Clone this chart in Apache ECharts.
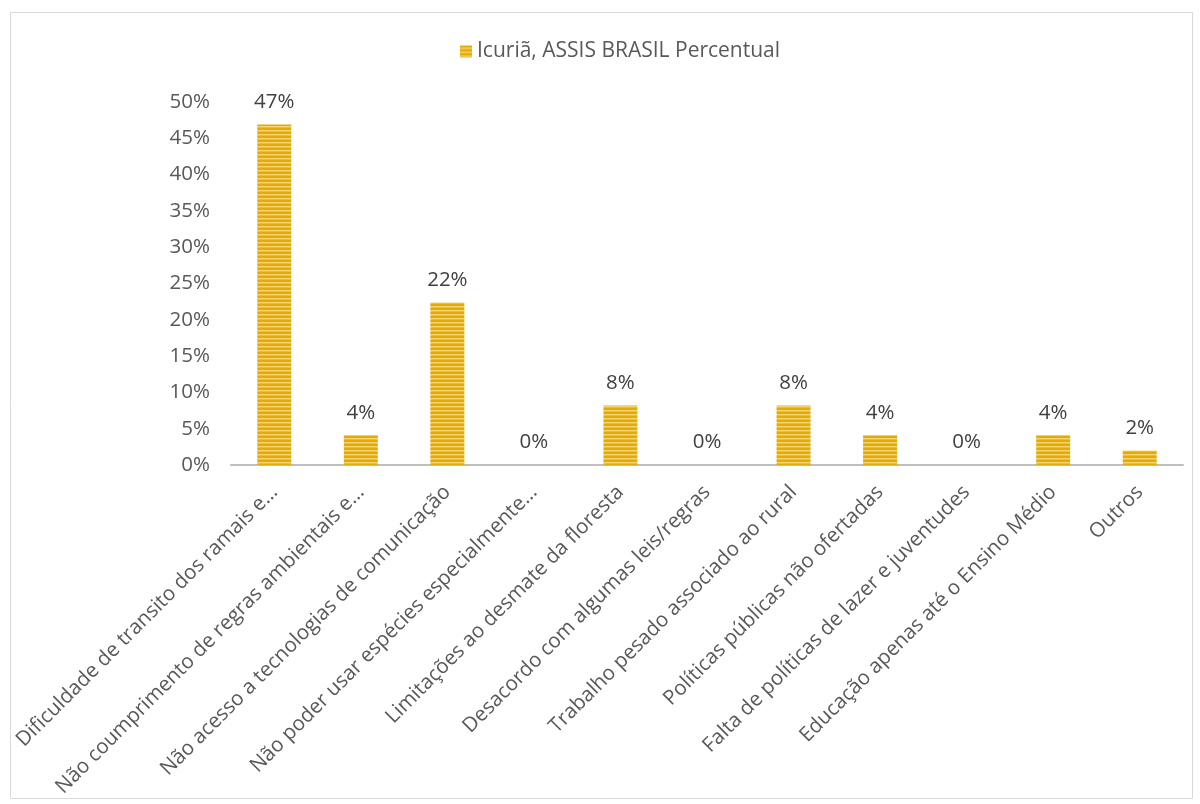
<!DOCTYPE html>
<html>
<head>
<meta charset="utf-8">
<script src="https://cdn.jsdelivr.net/npm/echarts@6/dist/echarts.min.js"></script>
<style>html,body{margin:0;padding:0;background:#fff}#c{width:1200px;height:804px}</style>
</head>
<body>
<div id="c"></div>
<script>
const categories = [
  "Dificuldade de transito dos ramais e…",
  "Não coumprimento de regras ambientais e…",
  "Não acesso a tecnologias de comunicação",
  "Não poder usar espécies especialmente…",
  "Limitações ao desmate da floresta",
  "Desacordo com algumas leis/regras",
  "Trabalho pesado associado ao rural",
  "Políticas públicas não ofertadas",
  "Falta de políticas de lazer e juventudes",
  "Educação apenas até o Ensino Médio",
  "Outros"
];
const percentValues = [46.9, 4.1, 22.4, 0, 8.2, 0, 8.2, 4.1, 0, 4.1, 2.0];
const seriesName = "Icuriã, ASSIS BRASIL Percentual";
const yTicks = [0, 5, 10, 15, 20, 25, 30, 35, 40, 45, 50];

const cv = document.createElement('canvas');
cv.width = 4; cv.height = 4;
const cx = cv.getContext('2d');
cx.fillStyle = '#E4AA06'; cx.fillRect(0, 0, 4, 4);
cx.fillStyle = '#F6D570'; cx.fillRect(0, 2, 4, 1);
cx.fillStyle = '#ECBD35'; cx.fillRect(0, 3, 4, 1);
const pattern = { image: cv, repeat: 'repeat' };

const chart = echarts.init(document.getElementById('c'));
const font = '"Open Sans", sans-serif';
chart.setOption({
  animation: false,
  textStyle: { fontFamily: font },
  graphic: [{
    type: 'rect', left: 8, top: 10,
    shape: { width: 1182, height: 786 },
    style: { fill: 'none', stroke: '#D9D9D9', lineWidth: 1 }
  }],
  legend: {
    top: 36, left: 455, icon: 'rect',
    itemWidth: 12, itemHeight: 12, itemGap: 6,
    textStyle: { fontSize: 21, color: '#595959', fontFamily: font },
    data: [seriesName]
  },
  grid: { left: 231, right: 17, top: 102, bottom: 339, containLabel: false },
  xAxis: {
    type: 'category',
    data: categories,
    axisLine: { lineStyle: { color: '#BFBFBF', width: 2 } },
    axisTick: { show: false },
    axisLabel: { rotate: 45, interval: 0, fontSize: 20.5, color: '#595959', margin: 24, fontFamily: font }
  },
  yAxis: {
    type: 'value', min: yTicks[0], max: yTicks[yTicks.length - 1], interval: 5,
    axisLine: { show: false }, axisTick: { show: false }, splitLine: { show: false },
    axisLabel: { formatter: '{value}%', fontSize: 20.5, color: '#595959', margin: 21, fontFamily: font }
  },
  series: [{
    name: seriesName,
    type: 'bar',
    data: percentValues,
    barWidth: 34,
    itemStyle: { color: pattern },
    label: {
      show: true, position: 'top', distance: 12,
      fontSize: 20.5, color: '#404040', fontFamily: font,
      formatter: p => Math.round(p.value) + '%'
    }
  }]
});
</script>
</body>
</html>
